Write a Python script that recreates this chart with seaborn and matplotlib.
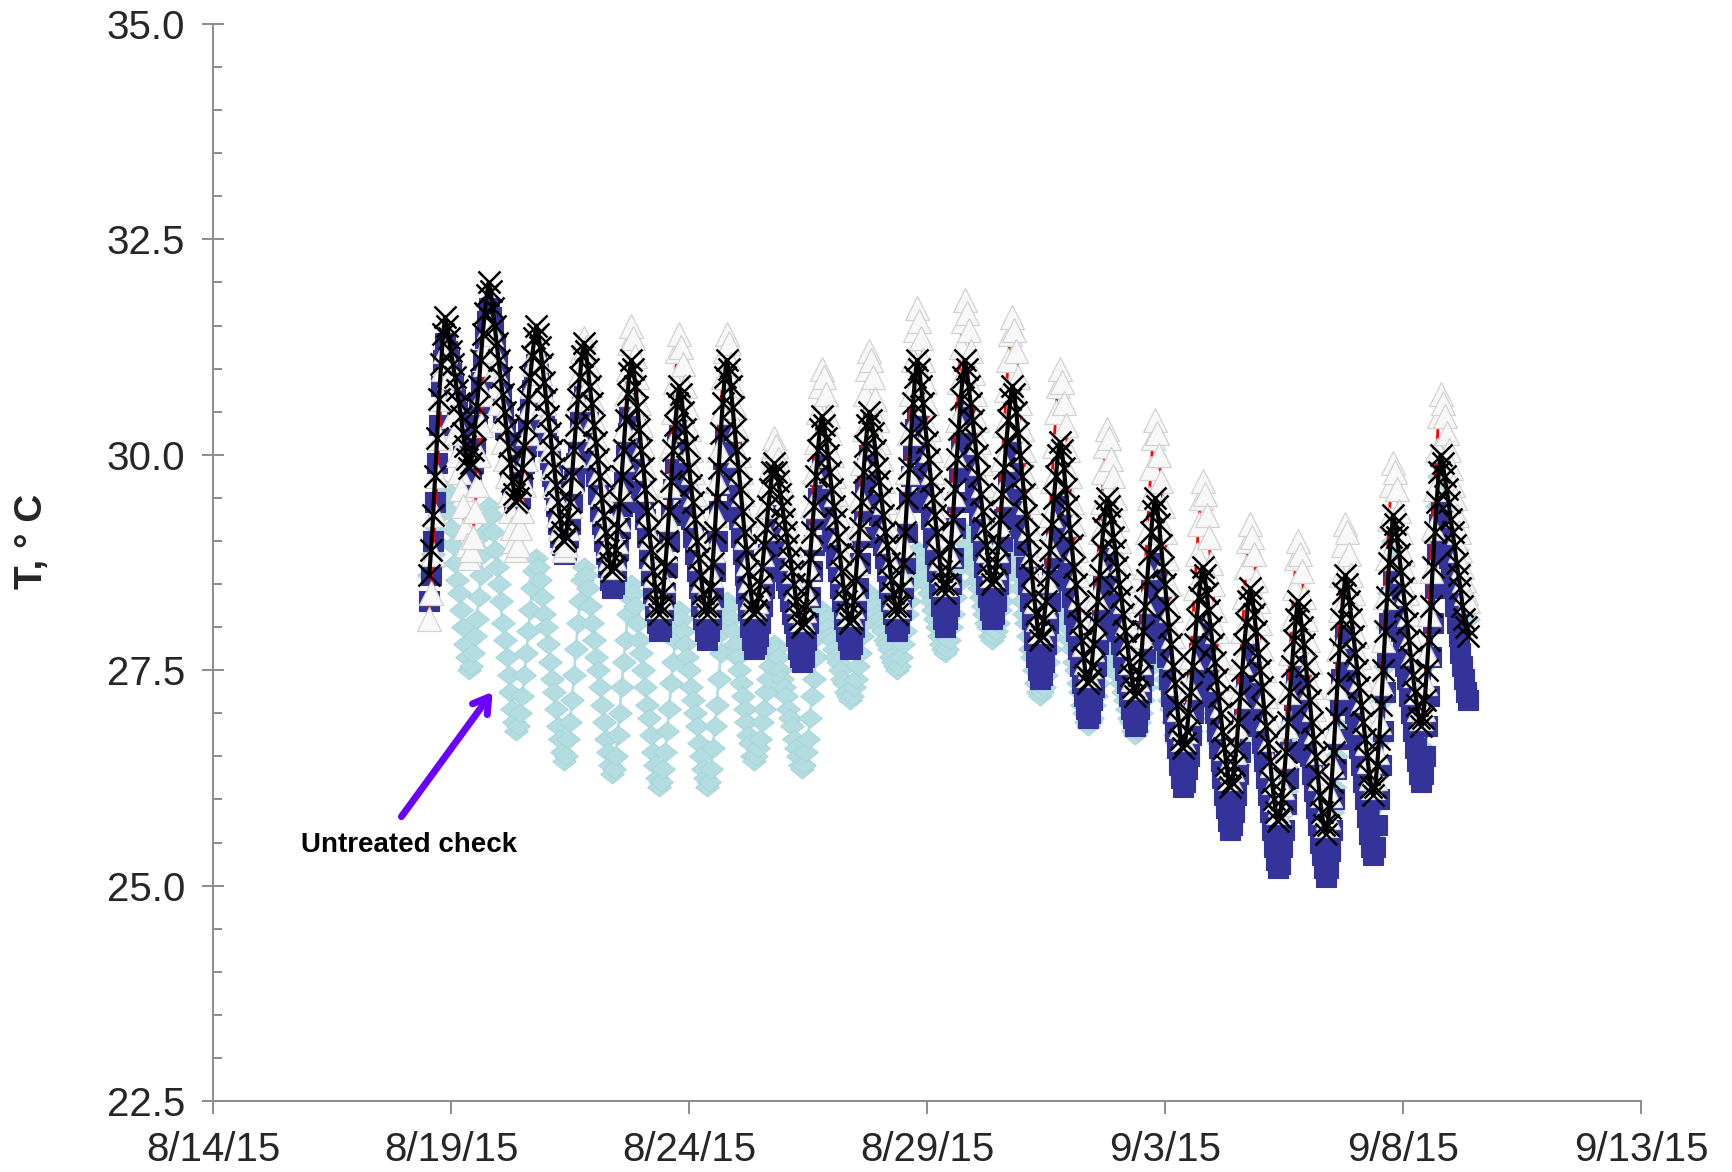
import numpy as np
import pandas as pd
import matplotlib
matplotlib.use("Agg")
import matplotlib.pyplot as plt
import matplotlib.dates as mdates
from matplotlib.ticker import MultipleLocator, FixedLocator, FixedFormatter, FormatStrFormatter
import seaborn as sns

# Hourly soil temperature readings, starting 8/18/15 13:00.
# First row: 8/18 13:00 .. 8/19 09:00; each further row: 10:00 .. 09:00 of the next day.
START = "2015-08-18 13:00"
STEP = "1h"

untreated_rows = [
    [28.6, 28.7, 28.85, 29.0, 29.15, 29.3, 29.45, 29.55, 29.6, 29.5, 29.35, 29.15, 28.95, 28.75, 28.55, 28.4, 28.2, 28.0, 27.8, 27.65, 27.5],
    [27.55, 27.7, 27.9, 28.1, 28.35, 28.6, 28.85, 29.1, 29.25, 29.4, 29.3, 29.1, 28.9, 28.7, 28.5, 28.3, 28.05, 27.85, 27.65, 27.45, 27.25, 27.05, 26.9, 26.8],
    [26.85, 27.0, 27.2, 27.45, 27.7, 27.95, 28.2, 28.45, 28.65, 28.8, 28.7, 28.55, 28.35, 28.15, 28.0, 27.8, 27.6, 27.4, 27.25, 27.05, 26.85, 26.7, 26.55, 26.45],
    [26.5, 26.7, 26.9, 27.15, 27.45, 27.75, 28.05, 28.3, 28.55, 28.7, 28.6, 28.45, 28.25, 28.05, 27.85, 27.65, 27.5, 27.3, 27.1, 26.9, 26.7, 26.55, 26.4, 26.3],
    [26.35, 26.5, 26.75, 27.0, 27.3, 27.6, 27.85, 28.15, 28.35, 28.5, 28.4, 28.25, 28.05, 27.85, 27.7, 27.5, 27.3, 27.1, 26.95, 26.75, 26.55, 26.4, 26.25, 26.15],
    [26.2, 26.35, 26.55, 26.8, 27.05, 27.35, 27.6, 27.85, 28.05, 28.2, 28.1, 27.95, 27.8, 27.65, 27.5, 27.3, 27.15, 27.0, 26.85, 26.65, 26.5, 26.35, 26.25, 26.15],
    [26.2, 26.35, 26.6, 26.85, 27.1, 27.4, 27.7, 27.95, 28.15, 28.3, 28.25, 28.1, 27.95, 27.8, 27.65, 27.5, 27.35, 27.2, 27.05, 26.9, 26.75, 26.65, 26.5, 26.45],
    [26.5, 26.6, 26.7, 26.9, 27.05, 27.25, 27.4, 27.55, 27.7, 27.8, 27.75, 27.65, 27.5, 27.4, 27.3, 27.2, 27.05, 26.95, 26.85, 26.7, 26.6, 26.5, 26.4, 26.35],
    [26.4, 26.55, 26.7, 26.95, 27.2, 27.4, 27.65, 27.9, 28.05, 28.2, 28.15, 28.1, 28.0, 27.9, 27.85, 27.75, 27.65, 27.6, 27.5, 27.4, 27.35, 27.25, 27.2, 27.15],
    [27.2, 27.3, 27.4, 27.55, 27.7, 27.9, 28.05, 28.2, 28.3, 28.4, 28.35, 28.3, 28.25, 28.15, 28.1, 28.0, 27.95, 27.85, 27.8, 27.75, 27.65, 27.6, 27.55, 27.5],
    [27.55, 27.65, 27.8, 27.95, 28.15, 28.3, 28.5, 28.65, 28.8, 28.9, 28.85, 28.75, 28.65, 28.6, 28.5, 28.4, 28.3, 28.2, 28.1, 28.0, 27.9, 27.8, 27.75, 27.7],
    [27.75, 27.85, 28.0, 28.15, 28.35, 28.5, 28.7, 28.85, 29.0, 29.1, 29.05, 28.95, 28.85, 28.75, 28.65, 28.55, 28.45, 28.35, 28.25, 28.15, 28.05, 28.0, 27.9, 27.85],
    [27.9, 27.95, 28.05, 28.2, 28.3, 28.45, 28.6, 28.7, 28.85, 28.9, 28.85, 28.7, 28.6, 28.45, 28.3, 28.15, 28.05, 27.9, 27.75, 27.65, 27.5, 27.35, 27.25, 27.2],
    [27.25, 27.3, 27.45, 27.6, 27.75, 27.9, 28.05, 28.2, 28.3, 28.4, 28.35, 28.25, 28.1, 28.0, 27.85, 27.75, 27.6, 27.5, 27.35, 27.25, 27.1, 27.0, 26.9, 26.85],
    [26.9, 26.95, 27.1, 27.2, 27.35, 27.5, 27.65, 27.8, 27.9, 28.0, 27.95, 27.85, 27.75, 27.65, 27.55, 27.45, 27.35, 27.25, 27.15, 27.05, 26.95, 26.9, 26.8, 26.75],
    [26.8, 26.9, 27.0, 27.15, 27.3, 27.5, 27.65, 27.8, 27.9, 28.0, 27.95, 27.8, 27.7, 27.55, 27.4, 27.3, 27.15, 27.05, 26.9, 26.75, 26.65, 26.5, 26.4, 26.35],
    [26.4, 26.5, 26.65, 26.8, 27.0, 27.2, 27.4, 27.55, 27.7, 27.8, 27.7, 27.6, 27.45, 27.25, 27.1, 26.95, 26.8, 26.65, 26.5, 26.35, 26.2, 26.05, 25.95, 25.85],
    [25.9, 26.05, 26.2, 26.4, 26.65, 26.85, 27.1, 27.3, 27.5, 27.6, 27.5, 27.35, 27.2, 27.0, 26.85, 26.7, 26.5, 26.35, 26.15, 26.0, 25.8, 25.65, 25.55, 25.45],
    [25.5, 25.65, 25.85, 26.1, 26.35, 26.65, 26.9, 27.15, 27.35, 27.5, 27.4, 27.25, 27.1, 26.9, 26.75, 26.6, 26.4, 26.25, 26.05, 25.9, 25.7, 25.55, 25.45, 25.35],
    [25.45, 25.6, 25.85, 26.15, 26.5, 26.85, 27.15, 27.45, 27.7, 27.9, 27.8, 27.65, 27.45, 27.3, 27.1, 26.9, 26.75, 26.55, 26.35, 26.2, 26.0, 25.85, 25.7, 25.6],
    [25.7, 25.95, 26.3, 26.7, 27.15, 27.55, 28.0, 28.4, 28.75, 29.0, 28.9, 28.75, 28.55, 28.35, 28.15, 27.95, 27.75, 27.55, 27.35, 27.15, 26.95, 26.75, 26.6, 26.5],
    [26.6, 26.85, 27.2, 27.6, 28.1, 28.55, 29.0, 29.4, 29.75, 30.0, 29.9, 29.8, 29.65, 29.5, 29.35, 29.2, 29.05, 28.9, 28.75, 28.6, 28.4, 28.3, 28.2, 28.1],
]

square_rows = [
    [28.3, 28.6, 29.0, 29.45, 29.9, 30.35, 30.8, 31.1, 31.3, 31.2, 31.1, 30.95, 30.8, 30.65, 30.5, 30.35, 30.25, 30.1, 29.95, 29.8, 29.7],
    [29.75, 29.9, 30.1, 30.35, 30.6, 30.85, 31.1, 31.35, 31.55, 31.7, 31.6, 31.45, 31.25, 31.05, 30.9, 30.7, 30.5, 30.3, 30.15, 29.95, 29.75, 29.6, 29.45, 29.35],
    [29.4, 29.5, 29.7, 29.9, 30.1, 30.35, 30.55, 30.75, 30.95, 31.05, 30.95, 30.8, 30.65, 30.45, 30.3, 30.1, 29.95, 29.75, 29.6, 29.4, 29.2, 29.05, 28.95, 28.85],
    [28.9, 29.05, 29.2, 29.45, 29.7, 29.9, 30.15, 30.4, 30.55, 30.7, 30.6, 30.45, 30.25, 30.1, 29.9, 29.75, 29.55, 29.35, 29.2, 29.0, 28.85, 28.7, 28.55, 28.45],
    [28.5, 28.65, 28.9, 29.15, 29.4, 29.7, 30.0, 30.25, 30.45, 30.6, 30.5, 30.3, 30.1, 29.9, 29.65, 29.45, 29.25, 29.05, 28.8, 28.6, 28.4, 28.2, 28.05, 27.95],
    [28.0, 28.2, 28.4, 28.7, 29.0, 29.3, 29.6, 29.9, 30.15, 30.3, 30.2, 30.05, 29.85, 29.65, 29.45, 29.25, 29.05, 28.85, 28.65, 28.45, 28.25, 28.1, 27.95, 27.85],
    [27.95, 28.1, 28.35, 28.65, 29.0, 29.35, 29.65, 29.95, 30.2, 30.4, 30.3, 30.1, 29.9, 29.7, 29.45, 29.25, 29.05, 28.85, 28.6, 28.4, 28.2, 28.0, 27.85, 27.75],
    [27.8, 27.9, 28.05, 28.25, 28.45, 28.65, 28.85, 29.05, 29.2, 29.3, 29.25, 29.1, 29.0, 28.85, 28.7, 28.55, 28.45, 28.3, 28.15, 28.05, 27.9, 27.75, 27.65, 27.6],
    [27.65, 27.85, 28.05, 28.35, 28.65, 28.95, 29.25, 29.5, 29.75, 29.9, 29.8, 29.65, 29.5, 29.3, 29.15, 29.0, 28.8, 28.65, 28.45, 28.3, 28.1, 27.95, 27.85, 27.75],
    [27.8, 28.0, 28.2, 28.45, 28.75, 29.05, 29.35, 29.6, 29.85, 30.0, 29.9, 29.75, 29.6, 29.45, 29.3, 29.1, 28.95, 28.8, 28.65, 28.45, 28.3, 28.15, 28.05, 27.95],
    [28.05, 28.2, 28.45, 28.75, 29.1, 29.45, 29.75, 30.05, 30.3, 30.5, 30.4, 30.25, 30.05, 29.85, 29.65, 29.45, 29.25, 29.05, 28.85, 28.65, 28.45, 28.25, 28.1, 28.0],
    [28.1, 28.25, 28.5, 28.8, 29.15, 29.45, 29.8, 30.1, 30.35, 30.5, 30.4, 30.25, 30.05, 29.85, 29.65, 29.45, 29.3, 29.1, 28.9, 28.7, 28.5, 28.35, 28.2, 28.1],
    [28.15, 28.3, 28.5, 28.75, 29.0, 29.25, 29.5, 29.75, 29.95, 30.1, 30.0, 29.8, 29.6, 29.35, 29.15, 28.95, 28.7, 28.5, 28.3, 28.1, 27.85, 27.65, 27.5, 27.4],
    [27.45, 27.6, 27.8, 28.05, 28.3, 28.55, 28.8, 29.05, 29.25, 29.4, 29.3, 29.15, 28.95, 28.75, 28.55, 28.35, 28.15, 27.95, 27.75, 27.55, 27.35, 27.2, 27.05, 26.95],
    [27.0, 27.15, 27.3, 27.55, 27.8, 28.0, 28.25, 28.5, 28.65, 28.8, 28.7, 28.6, 28.45, 28.25, 28.1, 27.95, 27.8, 27.65, 27.5, 27.35, 27.2, 27.05, 26.95, 26.85],
    [26.9, 27.05, 27.25, 27.45, 27.7, 27.95, 28.2, 28.45, 28.6, 28.75, 28.65, 28.45, 28.25, 28.05, 27.85, 27.65, 27.4, 27.2, 27.0, 26.8, 26.6, 26.4, 26.25, 26.15],
    [26.2, 26.35, 26.5, 26.75, 27.0, 27.2, 27.45, 27.7, 27.85, 28.0, 27.9, 27.75, 27.55, 27.35, 27.2, 27.0, 26.8, 26.6, 26.45, 26.25, 26.05, 25.9, 25.75, 25.65],
    [25.7, 25.85, 26.05, 26.3, 26.55, 26.85, 27.1, 27.35, 27.55, 27.7, 27.6, 27.45, 27.25, 27.05, 26.85, 26.65, 26.45, 26.25, 26.05, 25.85, 25.65, 25.45, 25.3, 25.2],
    [25.25, 25.45, 25.65, 25.95, 26.25, 26.55, 26.85, 27.15, 27.4, 27.55, 27.45, 27.3, 27.1, 26.9, 26.7, 26.5, 26.3, 26.1, 25.9, 25.7, 25.5, 25.35, 25.2, 25.1],
    [25.2, 25.4, 25.65, 26.0, 26.35, 26.7, 27.1, 27.4, 27.7, 27.9, 27.8, 27.6, 27.4, 27.2, 27.0, 26.8, 26.6, 26.4, 26.2, 26.0, 25.8, 25.6, 25.45, 25.35],
    [25.45, 25.7, 26.0, 26.4, 26.8, 27.25, 27.65, 28.05, 28.35, 28.6, 28.5, 28.35, 28.15, 27.95, 27.75, 27.55, 27.4, 27.2, 27.0, 26.8, 26.6, 26.45, 26.3, 26.2],
    [26.3, 26.5, 26.85, 27.2, 27.65, 28.05, 28.45, 28.85, 29.2, 29.4, 29.3, 29.15, 28.95, 28.8, 28.6, 28.45, 28.25, 28.05, 27.9, 27.7, 27.55, 27.4, 27.25, 27.15],
]

triangle_rows = [
    [28.1, 28.4, 28.85, 29.3, 29.75, 30.2, 30.65, 31.0, 31.2, 31.1, 30.9, 30.65, 30.45, 30.25, 30.0, 29.8, 29.6, 29.4, 29.15, 28.95, 28.8],
    [28.9, 29.05, 29.35, 29.65, 30.0, 30.35, 30.7, 31.05, 31.3, 31.5, 31.4, 31.2, 31.0, 30.8, 30.6, 30.4, 30.15, 29.95, 29.75, 29.55, 29.35, 29.15, 29.0, 28.9],
    [28.95, 29.15, 29.35, 29.65, 29.95, 30.25, 30.55, 30.8, 31.05, 31.2, 31.1, 30.95, 30.75, 30.6, 30.4, 30.2, 30.05, 29.85, 29.65, 29.5, 29.3, 29.15, 29.0, 28.9],
    [28.95, 29.15, 29.4, 29.7, 30.0, 30.3, 30.65, 30.95, 31.2, 31.35, 31.25, 31.05, 30.85, 30.65, 30.4, 30.2, 30.0, 29.8, 29.55, 29.35, 29.15, 28.95, 28.8, 28.7],
    [28.8, 29.0, 29.25, 29.6, 29.95, 30.3, 30.7, 31.0, 31.3, 31.5, 31.35, 31.15, 30.9, 30.6, 30.35, 30.1, 29.85, 29.6, 29.3, 29.05, 28.8, 28.6, 28.4, 28.25],
    [28.35, 28.55, 28.9, 29.25, 29.65, 30.1, 30.5, 30.85, 31.2, 31.4, 31.25, 31.05, 30.8, 30.55, 30.3, 30.05, 29.8, 29.55, 29.3, 29.05, 28.8, 28.55, 28.4, 28.25],
    [28.35, 28.6, 28.9, 29.3, 29.7, 30.05, 30.5, 30.9, 31.2, 31.4, 31.3, 31.05, 30.8, 30.55, 30.3, 30.0, 29.8, 29.55, 29.3, 29.05, 28.75, 28.55, 28.35, 28.25],
    [28.3, 28.45, 28.65, 28.85, 29.15, 29.4, 29.65, 29.85, 30.05, 30.2, 30.1, 29.95, 29.8, 29.65, 29.45, 29.3, 29.15, 28.95, 28.8, 28.65, 28.45, 28.3, 28.2, 28.1],
    [28.2, 28.4, 28.7, 29.05, 29.4, 29.8, 30.15, 30.5, 30.8, 31.0, 30.9, 30.7, 30.45, 30.25, 30.0, 29.75, 29.55, 29.3, 29.1, 28.85, 28.65, 28.45, 28.25, 28.15],
    [28.25, 28.45, 28.75, 29.15, 29.5, 29.9, 30.3, 30.7, 31.0, 31.2, 31.1, 30.9, 30.65, 30.4, 30.15, 29.95, 29.7, 29.45, 29.2, 29.0, 28.75, 28.55, 28.35, 28.25],
    [28.35, 28.6, 28.95, 29.35, 29.8, 30.25, 30.7, 31.1, 31.45, 31.7, 31.55, 31.35, 31.1, 30.85, 30.6, 30.3, 30.05, 29.8, 29.55, 29.3, 29.05, 28.8, 28.65, 28.5],
    [28.6, 28.85, 29.15, 29.55, 30.0, 30.4, 30.85, 31.25, 31.55, 31.8, 31.65, 31.45, 31.2, 30.95, 30.7, 30.4, 30.15, 29.9, 29.65, 29.4, 29.15, 28.9, 28.75, 28.6],
    [28.7, 28.9, 29.2, 29.55, 29.95, 30.35, 30.75, 31.1, 31.4, 31.6, 31.45, 31.2, 30.9, 30.6, 30.3, 30.05, 29.75, 29.45, 29.15, 28.85, 28.55, 28.3, 28.1, 27.95],
    [28.05, 28.25, 28.55, 28.95, 29.3, 29.7, 30.1, 30.5, 30.8, 31.0, 30.85, 30.6, 30.35, 30.05, 29.75, 29.45, 29.2, 28.9, 28.6, 28.35, 28.05, 27.8, 27.6, 27.45],
    [27.55, 27.75, 28.0, 28.35, 28.75, 29.1, 29.45, 29.8, 30.1, 30.3, 30.2, 29.95, 29.75, 29.5, 29.25, 29.0, 28.75, 28.55, 28.3, 28.05, 27.8, 27.6, 27.4, 27.3],
    [27.4, 27.6, 27.9, 28.3, 28.7, 29.1, 29.5, 29.85, 30.2, 30.4, 30.25, 30.0, 29.7, 29.4, 29.1, 28.8, 28.5, 28.2, 27.9, 27.65, 27.35, 27.05, 26.85, 26.7],
    [26.8, 27.0, 27.3, 27.65, 28.05, 28.45, 28.85, 29.2, 29.5, 29.7, 29.55, 29.3, 29.05, 28.75, 28.5, 28.2, 27.95, 27.65, 27.4, 27.1, 26.85, 26.6, 26.4, 26.25],
    [26.35, 26.55, 26.85, 27.2, 27.6, 27.95, 28.35, 28.7, 29.0, 29.2, 29.05, 28.85, 28.55, 28.3, 28.05, 27.75, 27.5, 27.2, 26.95, 26.7, 26.4, 26.2, 26.0, 25.85],
    [25.95, 26.15, 26.5, 26.85, 27.25, 27.7, 28.1, 28.45, 28.8, 29.0, 28.85, 28.65, 28.35, 28.1, 27.85, 27.6, 27.3, 27.05, 26.8, 26.55, 26.25, 26.05, 25.85, 25.7],
    [25.8, 26.05, 26.4, 26.8, 27.3, 27.75, 28.2, 28.6, 28.95, 29.2, 29.1, 28.85, 28.6, 28.4, 28.15, 27.9, 27.65, 27.4, 27.15, 26.9, 26.65, 26.45, 26.25, 26.15],
    [26.25, 26.55, 26.9, 27.35, 27.85, 28.35, 28.8, 29.25, 29.65, 29.9, 29.8, 29.6, 29.35, 29.1, 28.85, 28.65, 28.4, 28.15, 27.9, 27.7, 27.45, 27.25, 27.05, 26.95],
    [27.05, 27.35, 27.7, 28.15, 28.65, 29.15, 29.6, 30.05, 30.45, 30.7, 30.6, 30.45, 30.25, 30.05, 29.85, 29.65, 29.5, 29.3, 29.1, 28.9, 28.7, 28.55, 28.4, 28.3],
]

cross_rows = [
    [28.6, 28.9, 29.3, 29.75, 30.2, 30.65, 31.05, 31.4, 31.6, 31.5, 31.35, 31.2, 31.05, 30.9, 30.75, 30.6, 30.45, 30.25, 30.1, 29.95, 29.85],
    [29.9, 30.05, 30.3, 30.55, 30.8, 31.1, 31.4, 31.65, 31.85, 32.0, 31.9, 31.7, 31.5, 31.3, 31.1, 30.9, 30.7, 30.5, 30.3, 30.1, 29.9, 29.7, 29.55, 29.45],
    [29.5, 29.65, 29.85, 30.1, 30.35, 30.65, 30.9, 31.15, 31.35, 31.5, 31.4, 31.25, 31.05, 30.85, 30.65, 30.45, 30.25, 30.05, 29.85, 29.65, 29.45, 29.25, 29.1, 29.0],
    [29.05, 29.25, 29.45, 29.75, 30.05, 30.35, 30.65, 30.9, 31.15, 31.3, 31.2, 31.0, 30.8, 30.6, 30.35, 30.15, 29.95, 29.75, 29.5, 29.3, 29.1, 28.9, 28.75, 28.65],
    [28.7, 28.9, 29.15, 29.45, 29.75, 30.05, 30.4, 30.7, 30.95, 31.1, 31.0, 30.8, 30.55, 30.3, 30.05, 29.85, 29.6, 29.35, 29.1, 28.9, 28.65, 28.45, 28.25, 28.15],
    [28.25, 28.4, 28.7, 29.0, 29.35, 29.7, 30.05, 30.35, 30.6, 30.8, 30.7, 30.5, 30.3, 30.1, 29.85, 29.65, 29.45, 29.25, 29.0, 28.8, 28.6, 28.4, 28.25, 28.15],
    [28.25, 28.45, 28.75, 29.1, 29.5, 29.85, 30.25, 30.6, 30.9, 31.1, 31.0, 30.8, 30.55, 30.3, 30.05, 29.85, 29.6, 29.35, 29.1, 28.9, 28.65, 28.45, 28.25, 28.15],
    [28.2, 28.35, 28.5, 28.7, 28.95, 29.15, 29.4, 29.6, 29.8, 29.9, 29.8, 29.7, 29.55, 29.4, 29.25, 29.1, 28.95, 28.8, 28.65, 28.5, 28.3, 28.2, 28.1, 28.0],
    [28.05, 28.25, 28.5, 28.8, 29.1, 29.4, 29.75, 30.05, 30.3, 30.45, 30.35, 30.2, 30.0, 29.8, 29.6, 29.4, 29.25, 29.05, 28.85, 28.65, 28.45, 28.3, 28.15, 28.05],
    [28.1, 28.3, 28.55, 28.85, 29.15, 29.45, 29.8, 30.1, 30.35, 30.5, 30.4, 30.25, 30.05, 29.85, 29.7, 29.5, 29.3, 29.1, 28.95, 28.75, 28.55, 28.4, 28.25, 28.15],
    [28.25, 28.45, 28.75, 29.1, 29.5, 29.85, 30.25, 30.6, 30.9, 31.1, 31.0, 30.8, 30.6, 30.35, 30.15, 29.95, 29.7, 29.5, 29.3, 29.1, 28.85, 28.65, 28.5, 28.4],
    [28.5, 28.65, 28.95, 29.25, 29.6, 29.95, 30.3, 30.65, 30.9, 31.1, 31.0, 30.8, 30.6, 30.4, 30.2, 30.0, 29.75, 29.55, 29.35, 29.15, 28.95, 28.75, 28.6, 28.5],
    [28.55, 28.75, 28.95, 29.25, 29.55, 29.85, 30.15, 30.4, 30.65, 30.8, 30.7, 30.5, 30.25, 30.0, 29.75, 29.55, 29.3, 29.05, 28.8, 28.6, 28.35, 28.15, 27.95, 27.85],
    [27.9, 28.1, 28.3, 28.6, 28.9, 29.2, 29.5, 29.75, 30.0, 30.15, 30.05, 29.85, 29.6, 29.4, 29.15, 28.95, 28.7, 28.5, 28.25, 28.05, 27.85, 27.65, 27.45, 27.35],
    [27.4, 27.55, 27.8, 28.05, 28.3, 28.6, 28.9, 29.15, 29.35, 29.5, 29.4, 29.25, 29.05, 28.9, 28.7, 28.5, 28.35, 28.15, 27.95, 27.8, 27.6, 27.45, 27.3, 27.2],
    [27.25, 27.45, 27.65, 27.95, 28.25, 28.55, 28.85, 29.1, 29.35, 29.5, 29.4, 29.2, 28.95, 28.7, 28.5, 28.25, 28.0, 27.8, 27.55, 27.35, 27.1, 26.9, 26.7, 26.6],
    [26.65, 26.8, 27.0, 27.25, 27.55, 27.8, 28.1, 28.35, 28.55, 28.7, 28.6, 28.4, 28.2, 28.0, 27.8, 27.6, 27.4, 27.2, 27.0, 26.8, 26.6, 26.4, 26.25, 26.15],
    [26.2, 26.4, 26.6, 26.9, 27.2, 27.5, 27.8, 28.05, 28.3, 28.45, 28.35, 28.15, 27.95, 27.7, 27.5, 27.3, 27.05, 26.85, 26.65, 26.45, 26.2, 26.0, 25.85, 25.75],
    [25.8, 26.0, 26.25, 26.55, 26.9, 27.25, 27.55, 27.85, 28.1, 28.3, 28.2, 28.0, 27.8, 27.55, 27.35, 27.15, 26.9, 26.7, 26.5, 26.3, 26.05, 25.85, 25.7, 25.6],
    [25.7, 25.9, 26.2, 26.55, 26.95, 27.35, 27.75, 28.1, 28.4, 28.6, 28.5, 28.3, 28.1, 27.9, 27.7, 27.5, 27.3, 27.1, 26.9, 26.7, 26.5, 26.3, 26.15, 26.05],
    [26.15, 26.4, 26.7, 27.1, 27.5, 27.95, 28.35, 28.75, 29.05, 29.3, 29.2, 29.05, 28.85, 28.65, 28.45, 28.25, 28.05, 27.85, 27.65, 27.45, 27.25, 27.1, 26.95, 26.85],
    [26.95, 27.15, 27.5, 27.85, 28.25, 28.7, 29.1, 29.45, 29.8, 30.0, 29.9, 29.75, 29.6, 29.45, 29.25, 29.1, 28.95, 28.75, 28.6, 28.45, 28.25, 28.1, 28.0, 27.9],
]

tick_dates = ["2015-08-14", "2015-08-19", "2015-08-24", "2015-08-29",
              "2015-09-03", "2015-09-08", "2015-09-13"]
tick_labels = ["8/14/15", "8/19/15", "8/24/15", "8/29/15",
               "9/3/15", "9/8/15", "9/13/15"]
y_ticks = [22.5, 25.0, 27.5, 30.0, 32.5, 35.0]


def to_frame(rows, name):
    vals = [v for row in rows for v in row]
    t = pd.date_range(START, periods=len(vals), freq=STEP)
    return pd.DataFrame({"time": t, "temp": vals, "series": name})


df = pd.concat([
    to_frame(untreated_rows, "Untreated check"),
    to_frame(square_rows, "squares"),
    to_frame(triangle_rows, "triangles"),
    to_frame(cross_rows, "crosses"),
], ignore_index=True)

sns.set_theme(style="white")
plt.rcParams["font.family"] = ["Liberation Sans", "DejaVu Sans"]

fig = plt.figure(figsize=(17.33, 11.72), dpi=100)
ax = fig.add_axes([0.1229, 0.0606, 0.824, 0.9189])

flat_diamond = [(-1, 0), (0, 0.8), (1, 0), (0, -0.8), (-1, 0)]

styles = {
    "Untreated check": dict(color="#B3DDE1", lw=2.0, marker=flat_diamond, markersize=17,
                            markerfacecolor="#B3DDE1", markeredgecolor="#AAD6DA",
                            markeredgewidth=0.8),
    "squares": dict(color="#333399", lw=2.0, marker="s", markersize=14.5,
                    markerfacecolor="#333399", markeredgecolor="#333399",
                    markeredgewidth=0.8),
    "triangles": dict(color="#FF0000", lw=2.0, marker="^", markersize=17,
                      markerfacecolor="#F8F8F8", markeredgecolor="#D2D2D2",
                      markeredgewidth=0.9),
    "crosses": dict(color="#000000", lw=3.0, marker="x", markersize=16,
                    markerfacecolor="#000000", markeredgecolor="#000000",
                    markeredgewidth=1.8),
}

for name, kw in styles.items():
    sub = df[df["series"] == name]
    sns.lineplot(data=sub, x="time", y="temp", ax=ax, sort=False,
                 errorbar=None, legend=False, **kw)

# axes ranges and ticks
ax.set_xlim(mdates.date2num(pd.Timestamp(tick_dates[0])),
            mdates.date2num(pd.Timestamp(tick_dates[-1])))
ax.set_ylim(y_ticks[0], y_ticks[-1])
ax.xaxis.set_major_locator(FixedLocator([mdates.date2num(pd.Timestamp(d)) for d in tick_dates]))
ax.xaxis.set_major_formatter(FixedFormatter(tick_labels))
ax.yaxis.set_major_locator(FixedLocator(y_ticks))
ax.yaxis.set_major_formatter(FormatStrFormatter("%.1f"))
ax.yaxis.set_minor_locator(MultipleLocator(0.5))

spine_col = "#8C8C8C"
for s in ["top", "right"]:
    ax.spines[s].set_visible(False)
for s in ["left", "bottom"]:
    ax.spines[s].set_color(spine_col)
    ax.spines[s].set_linewidth(1.4)

ax.tick_params(axis="y", which="major", direction="inout", length=16, width=1.4,
               color=spine_col, labelsize=29, pad=12, left=True)
ax.tick_params(axis="y", which="minor", direction="in", length=6.5, width=1.4,
               color=spine_col, left=True)
ax.tick_params(axis="x", which="major", direction="out", length=9.5, width=1.4,
               color=spine_col, labelsize=29, pad=12, bottom=True)
ax.tick_params(axis="x", which="minor", bottom=False)

ax.set_xlabel("")
ax.set_ylabel("T, \u00b0 C", fontsize=28, fontweight="bold")
ax.yaxis.label.set_verticalalignment("center")
ax.yaxis.set_label_coords(-0.127, 0.52)
ax.grid(False)

# label pointing at the untreated check series
arrow_tail = mdates.date2num(pd.Timestamp("2015-08-17 23:00"))
arrow_head = mdates.date2num(pd.Timestamp("2015-08-19 21:00"))
ax.annotate("", xy=(arrow_head, 27.25), xytext=(arrow_tail, 25.8),
            arrowprops=dict(arrowstyle="->,head_length=0.9,head_width=0.55",
                            color="#6A00FF", lw=5, capstyle="round",
                            joinstyle="round", shrinkA=0, shrinkB=0))
ax.text(mdates.date2num(pd.Timestamp("2015-08-18 03:00")), 25.47, "Untreated check",
        ha="center", va="center", fontsize=20, fontweight="bold", color="#000000")

fig.savefig("out.png", dpi=100, facecolor="white")
